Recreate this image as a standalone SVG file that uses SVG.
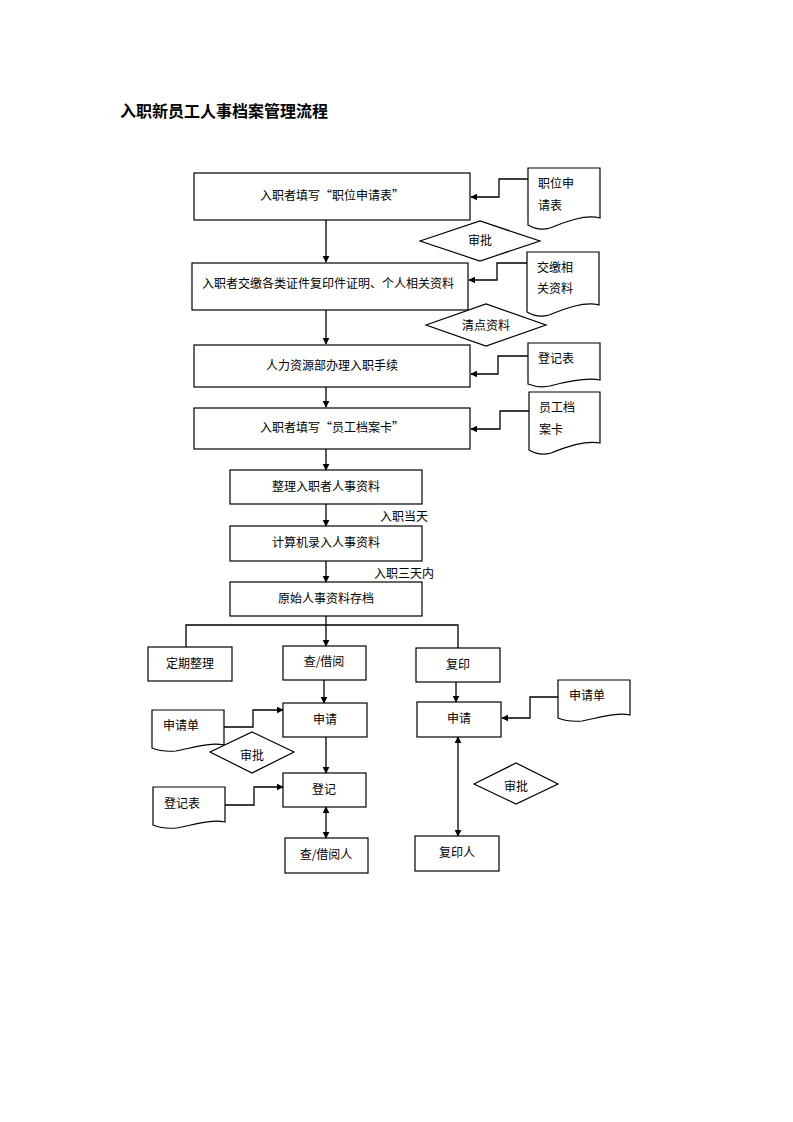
<svg xmlns="http://www.w3.org/2000/svg" width="793" height="1122" viewBox="0 0 793 1122">
<style>
text{font-family:"Noto Sans CJK SC","Liberation Sans",sans-serif;font-size:12px;fill:#000}
.c{text-anchor:middle}
.t{font-size:16px;font-weight:bold}
.b{fill:#fff;stroke:#000;stroke-width:1.2}
.l{fill:none;stroke:#000;stroke-width:1.3}
</style>
<defs>
<marker id="a" viewBox="0 0 10 10" refX="9" refY="5" markerWidth="7" markerHeight="7" orient="auto-start-reverse" markerUnits="userSpaceOnUse"><path d="M0,0 L10,5 L0,10 Z" fill="#000"/></marker>
</defs>
<rect width="793" height="1122" fill="#fff"/>
<text class="t" x="120" y="117">入职新员工人事档案管理流程</text>

<g id="connectors">
<path class="l" d="M326,220 V262" marker-end="url(#a)"/>
<path class="l" d="M326,310 V344" marker-end="url(#a)"/>
<path class="l" d="M326,387 V407" marker-end="url(#a)"/>
<path class="l" d="M326,449 V470" marker-end="url(#a)"/>
<path class="l" d="M326,504 V526" marker-end="url(#a)"/>
<path class="l" d="M326,561 V582" marker-end="url(#a)"/>
<path class="l" d="M326,616 V646" marker-end="url(#a)"/>
<path class="l" d="M186,647 V625 H458 V648"/>
<path class="l" d="M528,179 H499 V197 H471" marker-end="url(#a)"/>
<path class="l" d="M527,263 H497 V280 H469" marker-end="url(#a)"/>
<path class="l" d="M528,356 H498 V374 H471" marker-end="url(#a)"/>
<path class="l" d="M529,411 H500 V429 H471" marker-end="url(#a)"/>
<path class="l" d="M324,680 V703" marker-end="url(#a)"/>
<path class="l" d="M456,682 V702" marker-end="url(#a)"/>
<path class="l" d="M224,727 H253 V710 H283" marker-end="url(#a)"/>
<path class="l" d="M326,737 V773" marker-end="url(#a)"/>
<path class="l" d="M225,805 H254 V787 H283" marker-end="url(#a)"/>
<path class="l" d="M326,807 V838" marker-start="url(#a)" marker-end="url(#a)"/>
<path class="l" d="M558,697 H530 V718 H502" marker-end="url(#a)"/>
<path class="l" d="M458,737 V836" marker-start="url(#a)" marker-end="url(#a)"/>
<text x="380" y="521">入职当天</text>
<text x="374" y="578">入职三天内</text>
</g>

<g id="n1"><rect class="b" x="194" y="173" width="276" height="47"/><text class="c" x="332" y="200">入职者填写“职位申请表”</text></g>
<g id="d1"><path class="b" d="M528,168 H600 V218 C585,214 565,222 550,228 C540,231 533,228 528,225 Z"/><text x="538" y="188">职位申</text><text x="538" y="210">请表</text></g>
<g id="r1"><path class="b" d="M420,241 L480,221 L540,241 L480,261 Z"/><text class="c" x="480" y="245">审批</text></g>

<g id="n2"><rect class="b" x="192" y="263" width="276" height="47"/><text class="c" x="328" y="288">入职者交缴各类证件复印件证明、个人相关资料</text></g>
<g id="d2"><path class="b" d="M527,252 H599 V305 C584,301 564,309 549,315 C539,318 532,315 527,312 Z"/><text x="537" y="272">交缴相</text><text x="537" y="293">关资料</text></g>
<g id="r2"><path class="b" d="M426,325 L486,304 L546,325 L486,346 Z"/><text class="c" x="486" y="330">清点资料</text></g>

<g id="n3"><rect class="b" x="194" y="345" width="276" height="42"/><text class="c" x="332" y="370">人力资源部办理入职手续</text></g>
<g id="d3"><path class="b" d="M528,343 H600 V380 C585,377 565,382 550,386 C540,388 533,386 528,384 Z"/><text x="538" y="363">登记表</text></g>

<g id="n4"><rect class="b" x="194" y="408" width="276" height="41"/><text class="c" x="332" y="432">入职者填写“员工档案卡”</text></g>
<g id="d4"><path class="b" d="M529,392 H600 V443 C585,440 566,447 551,453 C541,456 534,453 529,450 Z"/><text x="539" y="412">员工档</text><text x="539" y="434">案卡</text></g>

<g id="n5"><rect class="b" x="230" y="470" width="192" height="34"/><text class="c" x="326" y="491">整理入职者人事资料</text></g>
<g id="n6"><rect class="b" x="230" y="526" width="192" height="35"/><text class="c" x="326" y="547">计算机录入人事资料</text></g>
<g id="n7"><rect class="b" x="230" y="582" width="192" height="34"/><text class="c" x="326" y="603">原始人事资料存档</text></g>

<g id="n8"><rect class="b" x="148" y="647" width="84" height="34"/><text class="c" x="190" y="668">定期整理</text></g>
<g id="n9"><rect class="b" x="283" y="646" width="83" height="34"/><text class="c" x="324" y="666">查/借阅</text></g>
<g id="n10"><rect class="b" x="416" y="648" width="84" height="34"/><text class="c" x="458" y="669">复印</text></g>

<g id="n11"><rect class="b" x="283" y="703" width="84" height="34"/><text class="c" x="325" y="724">申请</text></g>
<g id="n12"><rect class="b" x="417" y="702" width="84" height="35"/><text class="c" x="459" y="723">申请</text></g>
<g id="d5"><path class="b" d="M152,710 H224 V745 C210,742 192,748 176,751 C165,752 157,750 152,748 Z"/><text x="163" y="730">申请单</text></g>
<g id="r3"><path class="b" d="M210,752 L252,732 L294,752 L252,773 Z"/><text class="c" x="252" y="760">审批</text></g>
<g id="d6"><path class="b" d="M558,680 H630 V715 C616,712 598,718 582,721 C571,722 563,720 558,718 Z"/><text x="569" y="700">申请单</text></g>

<g id="n13"><rect class="b" x="283" y="773" width="83" height="34"/><text class="c" x="324" y="794">登记</text></g>
<g id="d7"><path class="b" d="M153,787 H225 V822 C211,819 193,825 177,828 C166,829 158,827 153,825 Z"/><text x="164" y="808">登记表</text></g>
<g id="r4"><path class="b" d="M474,784 L516,763 L558,784 L516,804 Z"/><text class="c" x="516" y="791">审批</text></g>

<g id="n14"><rect class="b" x="285" y="838" width="83" height="35"/><text class="c" x="326" y="859">查/借阅人</text></g>
<g id="n15"><rect class="b" x="415" y="836" width="84" height="35"/><text class="c" x="457" y="857">复印人</text></g>
</svg>
